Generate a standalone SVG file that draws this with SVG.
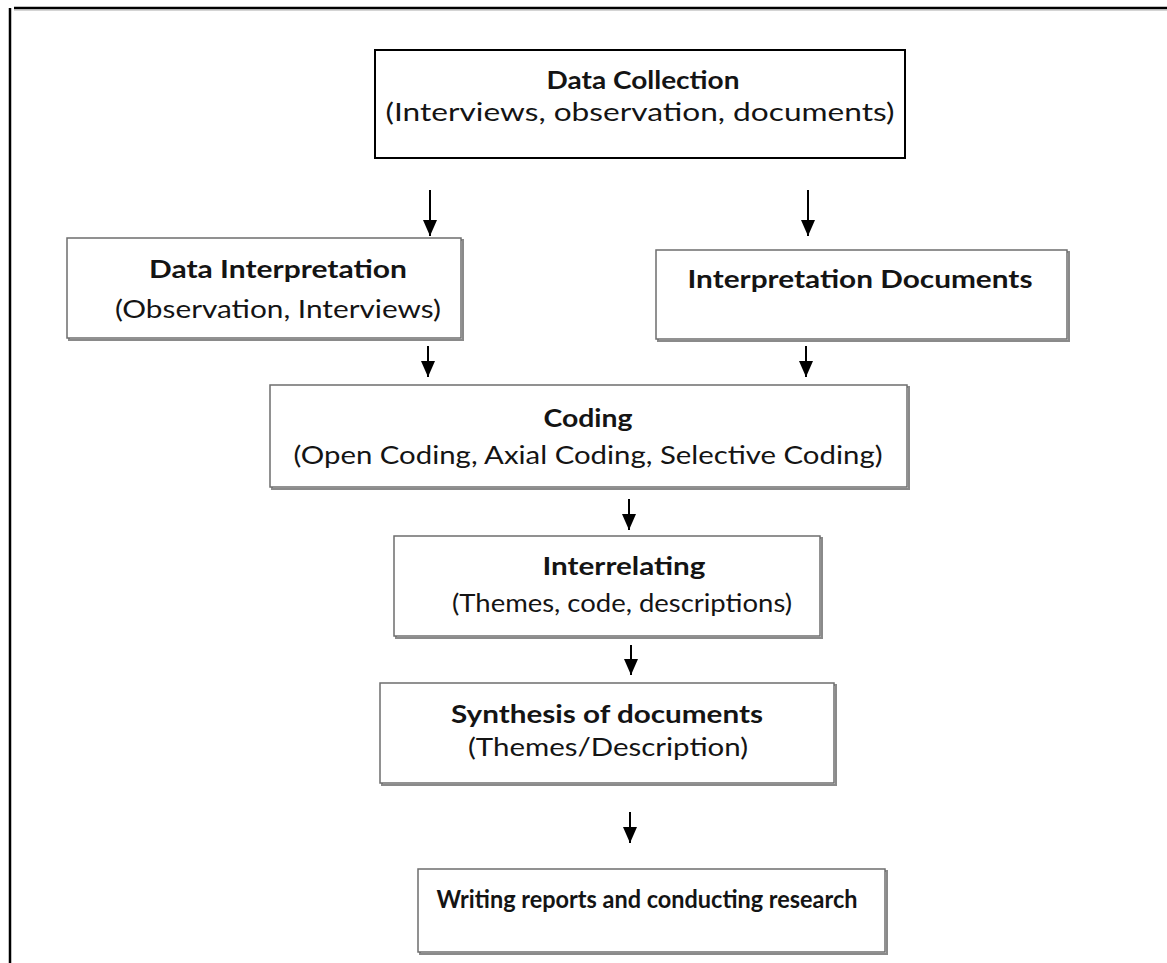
<svg xmlns="http://www.w3.org/2000/svg" width="1167" height="963" viewBox="0 0 1167 963">
<style>
.t{font-family:Lato,"Open Sans","Liberation Sans",sans-serif;font-size:25px;fill:#141414;text-anchor:middle}
.b{font-weight:bold}
.box{fill:#fff;stroke:#6e6e6e;stroke-width:1.5}
.sh{fill:none;stroke:#8a8a8a;stroke-width:2}
.main{fill:#fff;stroke:#000;stroke-width:2}
.arr{stroke:#000;stroke-width:2;fill:none;marker-end:url(#ah)}
</style>
<defs>
<marker id="ah" markerUnits="userSpaceOnUse" viewBox="0 0 16 14" refX="16" refY="7" markerWidth="16" markerHeight="14" orient="auto">
<path d="M0,0 L16,7 L0,14 z" fill="#000"/>
</marker>
</defs>
<rect width="1167" height="963" fill="#fff"/>
<g id="frame">
<line x1="14" y1="8" x2="1167" y2="8" stroke="#000" stroke-width="2.5"/>
<line x1="14" y1="10" x2="1167" y2="10" stroke="#aaa" stroke-width="1"/>
<line x1="10" y1="8" x2="10" y2="963" stroke="#000" stroke-width="2.5"/>
</g>
<g id="data-collection">
<rect class="main" x="375" y="50" width="530" height="108"/>
<text class="t b" x="643" y="89" textLength="193" lengthAdjust="spacingAndGlyphs">Data Collection</text>
<text class="t" x="640" y="121" textLength="509" lengthAdjust="spacingAndGlyphs">(Interviews, observation, documents)</text>
</g>
<g id="data-interpretation">
<rect class="sh" x="69" y="240" width="394" height="100"/>
<rect class="box" x="67" y="238" width="394" height="100"/>
<text class="t b" x="278" y="278" textLength="258" lengthAdjust="spacingAndGlyphs">Data Interpretation</text>
<text class="t" x="278" y="318" textLength="326" lengthAdjust="spacingAndGlyphs">(Observation, Interviews)</text>
</g>
<g id="interpretation-documents">
<rect class="sh" x="658" y="252" width="411" height="89"/>
<rect class="box" x="656" y="250" width="411" height="89"/>
<text class="t b" x="860" y="288" textLength="345" lengthAdjust="spacingAndGlyphs">Interpretation Documents</text>
</g>
<g id="coding">
<rect class="sh" x="272" y="387" width="637" height="102"/>
<rect class="box" x="270" y="385" width="637" height="102"/>
<text class="t b" x="588" y="427" textLength="89" lengthAdjust="spacingAndGlyphs">Coding</text>
<text class="t" x="588" y="464" textLength="589" lengthAdjust="spacingAndGlyphs">(Open Coding, Axial Coding, Selective Coding)</text>
</g>
<g id="interrelating">
<rect class="sh" x="396" y="538" width="426" height="100"/>
<rect class="box" x="394" y="536" width="426" height="100"/>
<text class="t b" x="624" y="575" textLength="163" lengthAdjust="spacingAndGlyphs">Interrelating</text>
<text class="t" x="622" y="612" textLength="340" lengthAdjust="spacingAndGlyphs">(Themes, code, descriptions)</text>
</g>
<g id="synthesis">
<rect class="sh" x="382" y="685" width="454" height="100"/>
<rect class="box" x="380" y="683" width="454" height="100"/>
<text class="t b" x="607" y="723" textLength="312" lengthAdjust="spacingAndGlyphs">Synthesis of documents</text>
<text class="t" x="608" y="756" textLength="280" lengthAdjust="spacingAndGlyphs">(Themes/Description)</text>
</g>
<g id="writing">
<rect class="sh" x="420" y="871" width="467" height="83"/>
<rect class="box" x="418" y="869" width="467" height="83"/>
<text class="t b" x="647" y="908" textLength="421" lengthAdjust="spacingAndGlyphs">Writing reports and conducting research</text>
</g>
<g id="connectors">
<line class="arr" x1="430" y1="190" x2="430" y2="236"/>
<line class="arr" x1="808" y1="190" x2="808" y2="236"/>
<line class="arr" x1="428" y1="346" x2="428" y2="377"/>
<line class="arr" x1="806" y1="346" x2="806" y2="377"/>
<line class="arr" x1="629" y1="499" x2="629" y2="530"/>
<line class="arr" x1="631" y1="645" x2="631" y2="675"/>
<line class="arr" x1="630" y1="812" x2="630" y2="843"/>
</g>
</svg>
